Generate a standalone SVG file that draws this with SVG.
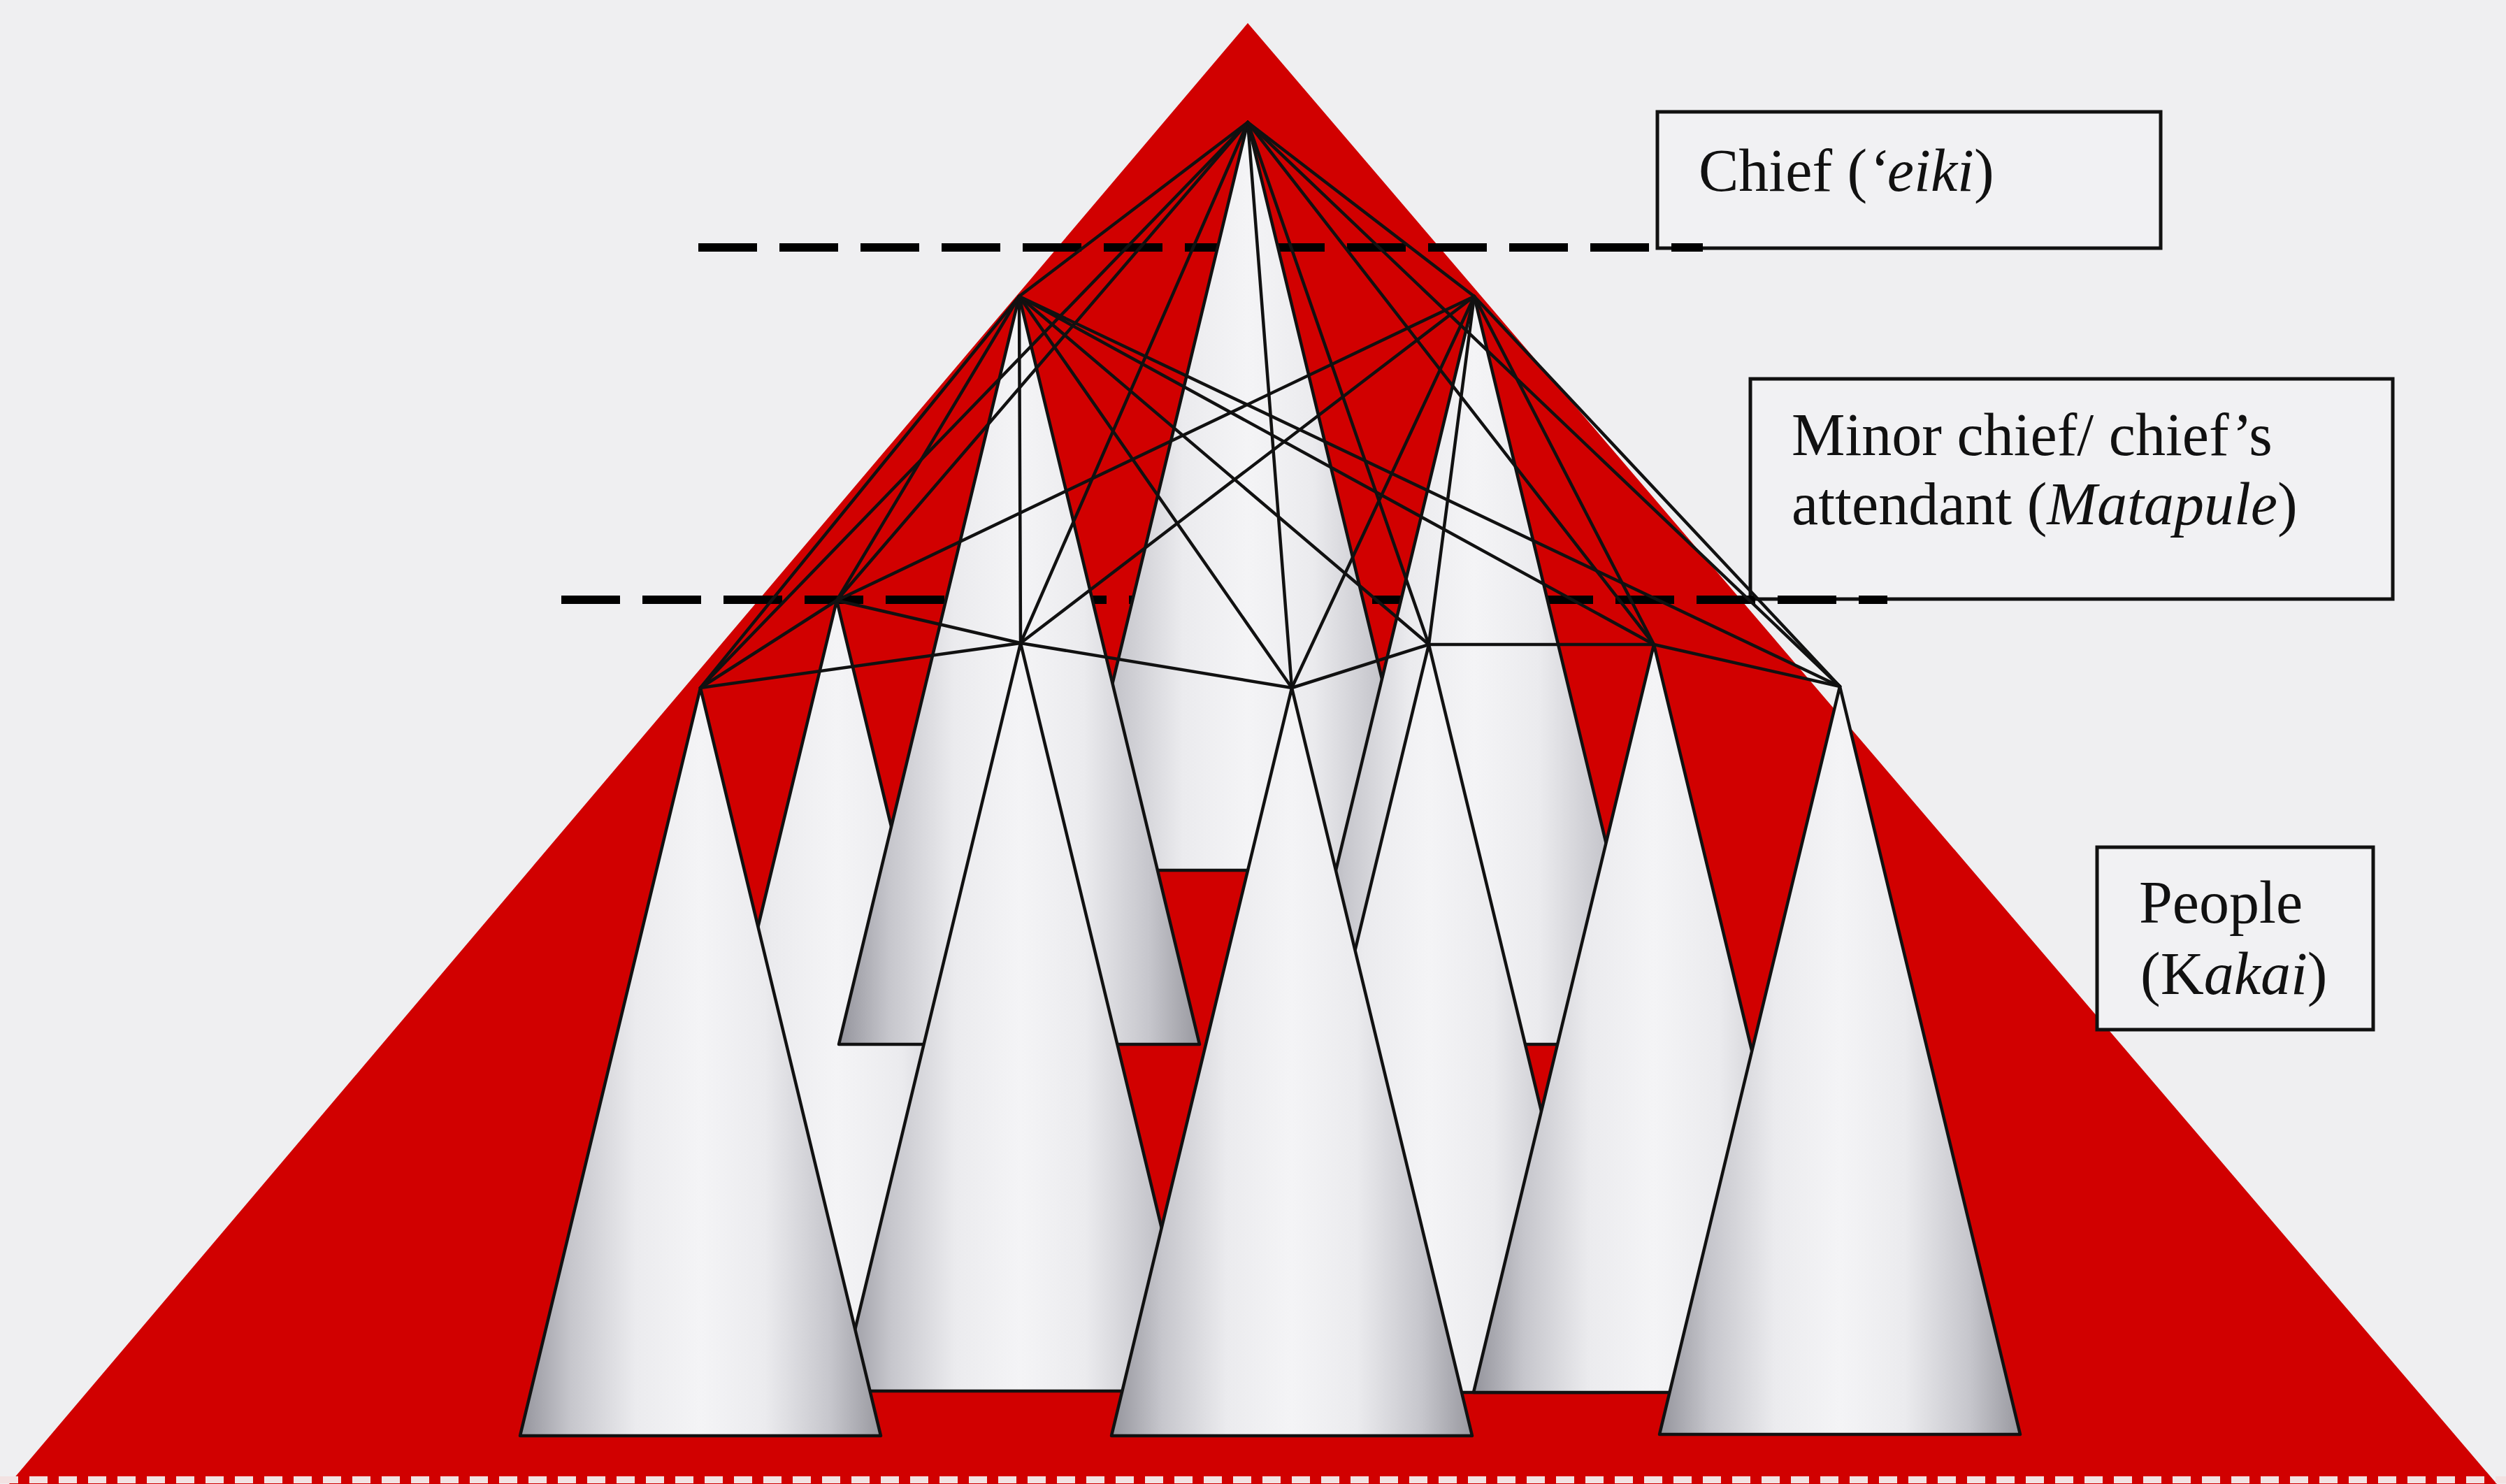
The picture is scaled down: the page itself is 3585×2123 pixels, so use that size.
<svg xmlns="http://www.w3.org/2000/svg" width="3585" height="2123" viewBox="0 0 3585 2123">
<defs>
<linearGradient id="cone" x1="0" y1="0" x2="1" y2="0">
<stop offset="0" stop-color="#94949c"/>
<stop offset="0.14" stop-color="#c6c6cc"/>
<stop offset="0.32" stop-color="#ebebee"/>
<stop offset="0.5" stop-color="#f4f4f6"/>
<stop offset="0.68" stop-color="#ebebee"/>
<stop offset="0.86" stop-color="#c6c6cc"/>
<stop offset="1" stop-color="#98989f"/>
</linearGradient>
<style>
.cone{fill:url(#cone);stroke:#111;stroke-width:4.5;stroke-linejoin:round}
.box{fill:#f1f1f3;stroke:#111;stroke-width:5}
.dash{stroke:#000;stroke-width:12;stroke-dasharray:84 32;fill:none}
.link{stroke:#111;stroke-width:4.5;fill:none;stroke-linecap:round}
.lbl{font-family:"Liberation Serif","Times New Roman",serif;font-size:86px;fill:#111}
.it{font-style:italic}
</style>
</defs>
<rect width="3585" height="2123" fill="#efeff1"/>
<polygon id="pyramid" points="1785,33 13,2123 3572,2123" fill="#d10000"/>
<line x1="0" y1="2117" x2="3585" y2="2117" stroke="#f2e2e2" stroke-width="10" stroke-dasharray="26 16"/>

<g id="box-chief">
<rect class="box" x="2371" y="160" width="720" height="195"/>
<text class="lbl" x="2430" y="273">Chief (<tspan class="it">‘eiki</tspan>)</text>
</g>
<g id="box-matapule">
<rect class="box" x="2504" y="542" width="919" height="315"/>
<text class="lbl" x="2563" y="651">Minor chief/ chief’s</text>
<text class="lbl" x="2563" y="750">attendant (<tspan class="it">Matapule</tspan>)</text>
</g>
<g id="box-kakai">
<rect class="box" x="3000" y="1212" width="395" height="261"/>
<text class="lbl" x="3060" y="1320">People</text>
<text class="lbl" x="3062" y="1422">(K<tspan class="it">akai</tspan>)</text>
</g>

<g id="level-lines">
<line class="dash" x1="999" y1="354" x2="2436" y2="354"/>
<line class="dash" x1="803" y1="858" x2="2700" y2="858"/>
</g>

<g id="cones">
<polygon id="cone-chief" class="cone" points="1785,175 2043,1245 1527,1245"/>
<polygon id="cone-p2" class="cone" points="1197,859 1455,1929 939,1929"/>
<polygon id="cone-ml" class="cone" points="1458,424 1716,1494 1200,1494"/>
<polygon id="cone-mr" class="cone" points="2109,424 2367,1494 1851,1494"/>
<polygon id="cone-p7" class="cone" points="2044,922 2302,1992 1786,1992"/>
<polygon id="cone-p3" class="cone" points="1460,920 1718,1990 1202,1990"/>
<polygon id="cone-p8" class="cone" points="2366,922 2624,1992 2108,1992"/>
<polygon id="cone-p1" class="cone" points="1002,984 1260,2054 744,2054"/>
<polygon id="cone-p5" class="cone" points="1848,984 2106,2054 1590,2054"/>
<polygon id="cone-p9" class="cone" points="2632,982 2890,2052 2374,2052"/>
</g>

<g id="connectors">
<line class="link" x1="1785" y1="175" x2="1458" y2="424"/>
<line class="link" x1="1785" y1="175" x2="2109" y2="424"/>
<line class="link" x1="1785" y1="175" x2="1002" y2="984"/>
<line class="link" x1="1785" y1="175" x2="1197" y2="859"/>
<line class="link" x1="1785" y1="175" x2="1460" y2="920"/>
<line class="link" x1="1785" y1="175" x2="1848" y2="984"/>
<line class="link" x1="1785" y1="175" x2="2044" y2="922"/>
<line class="link" x1="1785" y1="175" x2="2366" y2="922"/>
<line class="link" x1="1785" y1="175" x2="2632" y2="982"/>
<line class="link" x1="1458" y1="424" x2="1002" y2="984"/>
<line class="link" x1="1458" y1="424" x2="1197" y2="859"/>
<line class="link" x1="1458" y1="424" x2="1460" y2="920"/>
<line class="link" x1="1458" y1="424" x2="1848" y2="984"/>
<line class="link" x1="1458" y1="424" x2="2044" y2="922"/>
<line class="link" x1="1458" y1="424" x2="2366" y2="922"/>
<line class="link" x1="1458" y1="424" x2="2632" y2="982"/>
<line class="link" x1="2109" y1="424" x2="1197" y2="859"/>
<line class="link" x1="2109" y1="424" x2="1460" y2="920"/>
<line class="link" x1="2109" y1="424" x2="1848" y2="984"/>
<line class="link" x1="2109" y1="424" x2="2044" y2="922"/>
<line class="link" x1="2109" y1="424" x2="2366" y2="922"/>
<line class="link" x1="2109" y1="424" x2="2632" y2="982"/>
<line class="link" x1="1002" y1="984" x2="1197" y2="859"/>
<line class="link" x1="1002" y1="984" x2="1460" y2="920"/>
<line class="link" x1="1197" y1="859" x2="1460" y2="920"/>
<line class="link" x1="1460" y1="920" x2="1848" y2="984"/>
<line class="link" x1="1848" y1="984" x2="2044" y2="922"/>
<line class="link" x1="2044" y1="922" x2="2366" y2="922"/>
<line class="link" x1="2366" y1="922" x2="2632" y2="982"/>
</g>
</svg>
